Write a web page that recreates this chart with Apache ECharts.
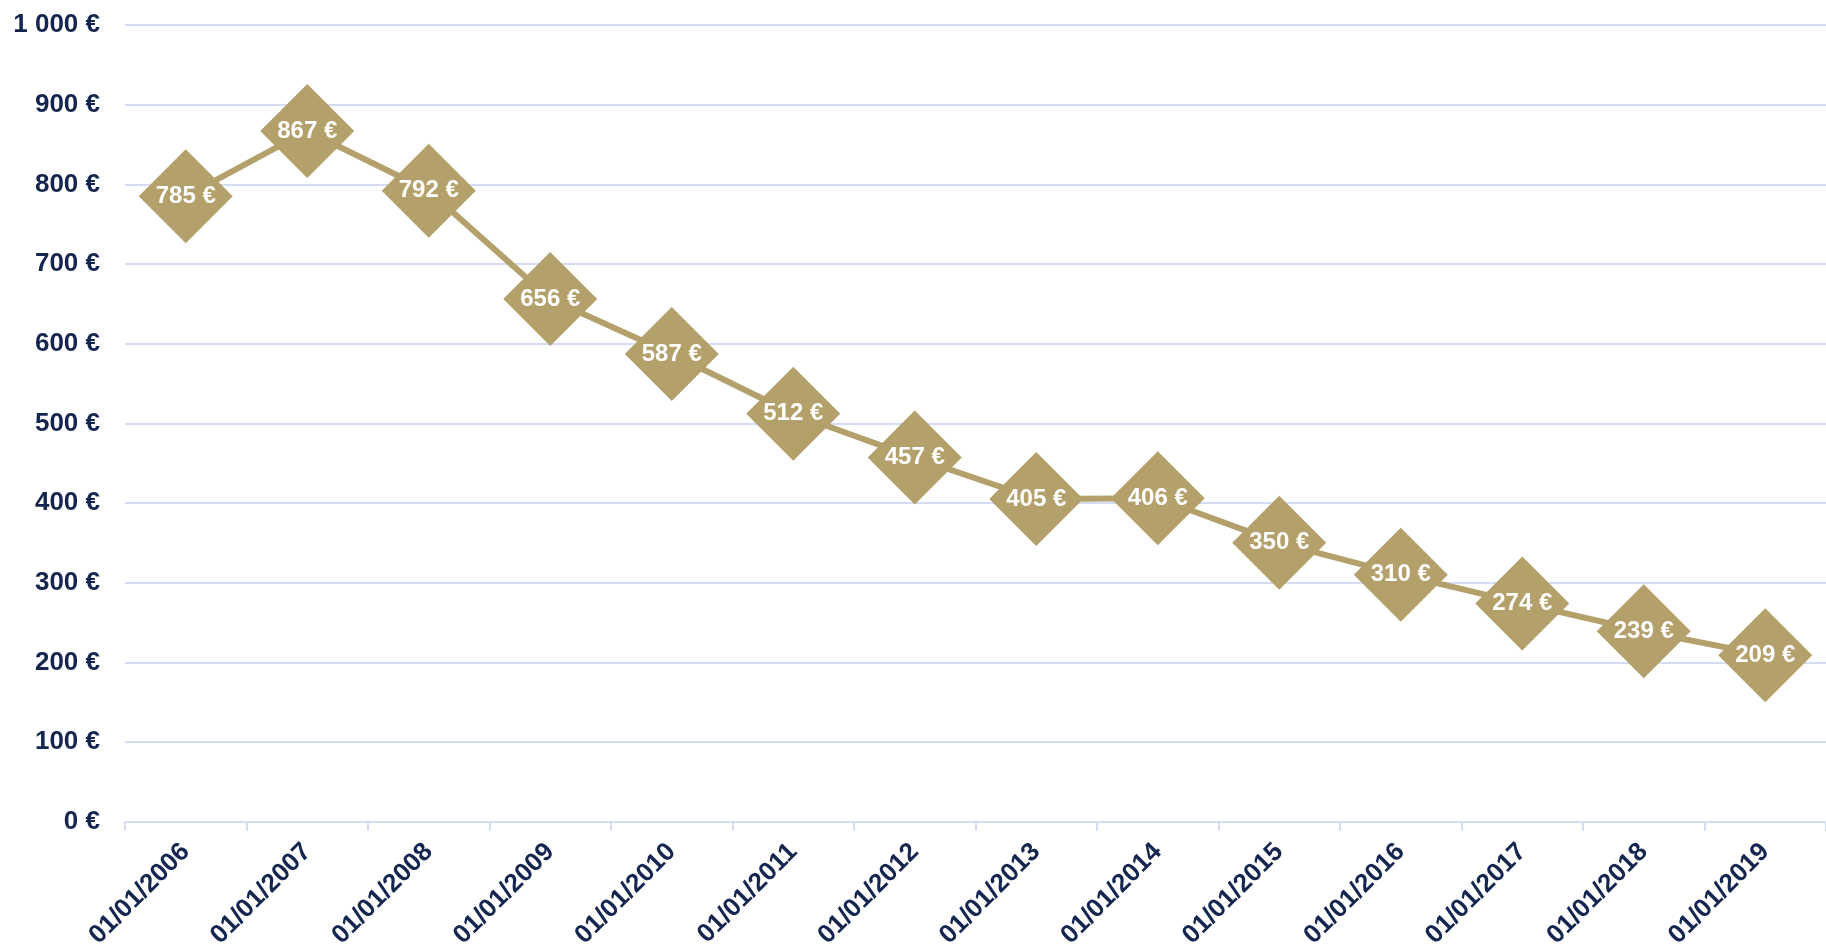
<!DOCTYPE html>
<html>
<head>
<meta charset="utf-8">
<script src="https://cdn.jsdelivr.net/npm/echarts@6/dist/echarts.min.js"></script>
<style>
  html, body { margin: 0; padding: 0; background: #fff; }
  #chart { width: 1826px; height: 951px; }
</style>
</head>
<body>
<div id="chart"></div>
<script>
const categories = ['01/01/2006', '01/01/2007', '01/01/2008', '01/01/2009', '01/01/2010',
  '01/01/2011', '01/01/2012', '01/01/2013', '01/01/2014', '01/01/2015',
  '01/01/2016', '01/01/2017', '01/01/2018', '01/01/2019']
const prices = [785, 867, 792, 656, 587, 512, 457, 405, 406, 350, 310, 274, 239, 209]

const navy = '#14254f'
const gold = '#b3a06b'
const gridBlue = '#d3dcf2'
const font = 'Liberation Sans, Arial, sans-serif'

function euro(v) {
  // french style thousands separator
  return String(v).replace(/\B(?=(\d{3})+(?!\d))/g, ' ') + ' €'
}

const chart = echarts.init(document.getElementById('chart'))
chart.setOption({
  animation: false,
  grid: { left: 125, top: 25, width: 1708, height: 797 },
  xAxis: {
    type: 'category',
    data: categories,
    boundaryGap: true,
    axisLine: { lineStyle: { color: gridBlue, width: 2 } },
    axisTick: { show: true, length: 9, lineStyle: { color: gridBlue, width: 2 } },
    axisLabel: {
      rotate: 45,
      margin: 26,
      color: navy,
      fontFamily: font,
      fontWeight: 'bold',
      fontSize: 26
    }
  },
  yAxis: {
    type: 'value',
    min: 0,
    max: 1000,
    interval: 100,
    axisLine: { show: false },
    axisTick: { show: false },
    splitLine: { lineStyle: { color: gridBlue, width: 2 } },
    axisLabel: {
      margin: 25,
      color: navy,
      fontFamily: font,
      fontWeight: 'bold',
      fontSize: 26,
      formatter: euro
    }
  },
  series: [
    {
      type: 'line',
      data: prices,
      symbol: 'diamond',
      symbolSize: 94,
      lineStyle: { color: gold, width: 6 },
      itemStyle: { color: gold },
      label: {
        show: true,
        position: 'inside',
        color: '#fff',
        fontFamily: font,
        fontWeight: 'bold',
        fontSize: 24,
        formatter: (p) => euro(p.value)
      }
    }
  ]
})
</script>
</body>
</html>
